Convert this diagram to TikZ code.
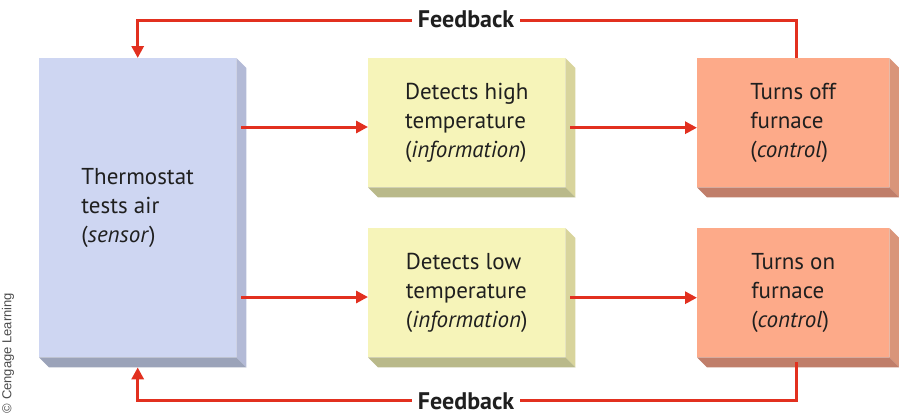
\documentclass[tikz,border=0pt]{standalone}
\usepackage{fontspec}
\setmainfont{PT Sans}
\newfontfamily\credfont{Liberation Sans}
\usetikzlibrary{arrows.meta,calc}
\definecolor{sfront}{HTML}{CED6F2}
\definecolor{sside}{HTML}{B3BAD6}
\definecolor{sbottom}{HTML}{9BA3B9}
\definecolor{ifront}{HTML}{F6F4B9}
\definecolor{iside}{HTML}{D8D49C}
\definecolor{ibottom}{HTML}{B9B98A}
\definecolor{cfront}{HTML}{FDAA89}
\definecolor{cside}{HTML}{D9957A}
\definecolor{cbottom}{HTML}{C07E6A}
\definecolor{arrred}{HTML}{E2301F}
\tikzset{
  blockbox/.style={anchor=north west, inner sep=0pt, align=left,
    font=\fontsize{23}{29}\selectfont, text=black!88},
  flow/.style={draw=arrred, line width=3pt,
    -{Triangle[length=12pt,width=12pt]}},
  fblabel/.style={fill=white, inner xsep=6pt, inner ysep=2pt,
    font=\fontsize{24}{26}\selectfont\bfseries, text=black!88}
}
\newcommand{\extrude}[3]{%
  \fill[#2] (#1.north east) -- ++(10,10) -- ($(#1.south east)+(10,10)$) -- (#1.south east) -- cycle;
  \fill[#3] (#1.south west) -- ++(10,10) -- ($(#1.south east)+(10,10)$) -- (#1.south east) -- cycle;
}
\begin{document}
\begin{tikzpicture}[x=1pt,y=-1pt]
\useasboundingbox (0,0) rectangle (899,418);
% boxes
\node[blockbox, fill=sfront, minimum width=197pt, minimum height=299pt] (sensor) at (39,58)
  {Thermostat\\tests air\\(\textit{sensor})};
\extrude{sensor}{sside}{sbottom}
\node[blockbox, fill=ifront, minimum width=197pt, minimum height=129pt] (infohi) at (368,58)
  {Detects high\\temperature\\(\textit{information})};
\extrude{infohi}{iside}{ibottom}
\node[blockbox, fill=ifront, minimum width=197pt, minimum height=129pt] (infolo) at (368,228)
  {Detects low\\temperature\\(\textit{information})};
\extrude{infolo}{iside}{ibottom}
\node[blockbox, fill=cfront, minimum width=192pt, minimum height=129pt] (ctrlhi) at (697,58)
  {Turns off\\furnace\\(\textit{control})};
\extrude{ctrlhi}{cside}{cbottom}
\node[blockbox, fill=cfront, minimum width=192pt, minimum height=129pt] (ctrllo) at (697,228)
  {Turns on\\furnace\\(\textit{control})};
\extrude{ctrllo}{cside}{cbottom}
% forward arrows
\coordinate (shi) at ($(sensor.north east)+(5,69)$);
\coordinate (slo) at ($(sensor.north east)+(5,239)$);
\draw[flow] (shi) -- (shi -| infohi.west);
\draw[flow] (slo) -- (slo -| infolo.west);
\coordinate (ihi) at ($(infohi.east)+(5,5)$);
\coordinate (ilo) at ($(infolo.east)+(5,5)$);
\draw[flow] (ihi) -- (ihi -| ctrlhi.west);
\draw[flow] (ilo) -- (ilo -| ctrllo.west);
% feedback loops
\coordinate (ctop) at ($(ctrlhi.north)+(3,0)$);
\coordinate (cbot) at ($(ctrllo.south)+(3,5)$);
\coordinate (ttr) at ($(ctop)+(0,-38)$);
\coordinate (ttl) at ($(sensor.north)+(0,-38)$);
\coordinate (bbr) at ($(cbot)+(0,38)$);
\coordinate (bbl) at ($(sensor.south)+(0,43)$);
\coordinate (stopin) at (sensor.north);
\coordinate (sbotin) at ($(sensor.south)+(0,10)$);
\draw[flow, line join=miter] (ctop) -- (ttr) -- (ttl) -- (stopin);
\draw[flow, line join=miter] (cbot) -- (bbr) -- (bbl) -- (sbotin);
\node[fblabel] (fbtop) at (466,19) {Feedback};
\node[fblabel] (fbbot) at (466,401) {Feedback};
% credit
\node[rotate=90, font=\credfont\fontsize{13}{15}\selectfont, text=black!70] (credit) at (8,353) {\textcopyright{} Cengage Learning};
\end{tikzpicture}
\end{document}
